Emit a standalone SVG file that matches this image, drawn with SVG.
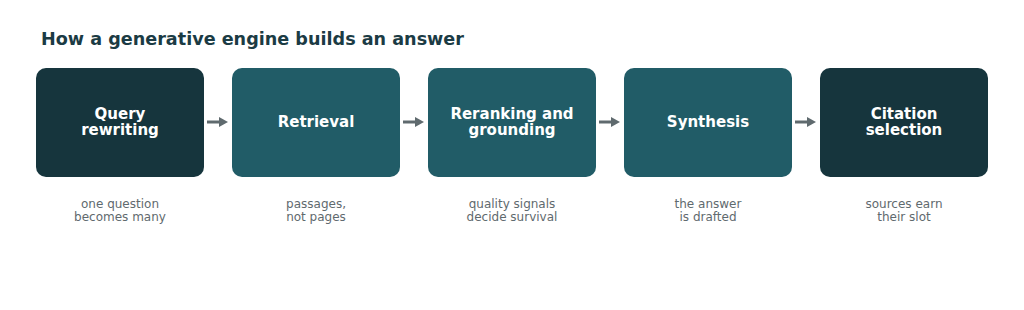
<svg xmlns="http://www.w3.org/2000/svg" width="1024" height="310" viewBox="0 0 1024 310">
<style>
.title{font-family:"DejaVu Sans",sans-serif;font-weight:bold;font-size:17.6px;fill:#1b3b44}
.dark{fill:#16353d}
.teal{fill:#215c67}
.lbl{font-family:"DejaVu Sans",sans-serif;font-weight:bold;font-size:15px;fill:#ffffff;text-anchor:middle}
.cap{font-family:"DejaVu Sans",sans-serif;font-size:12px;fill:#5f6a6e;text-anchor:middle}
.conn{stroke:#5f6a6e;stroke-width:3;fill:none}
</style>
<defs>
<marker id="ah" markerWidth="9" markerHeight="10" refX="0" refY="5" orient="auto" markerUnits="userSpaceOnUse">
<path d="M0,0 L9,5 L0,10 Z" fill="#5f6a6e"/>
</marker>
</defs>
<rect width="1024" height="310" fill="#ffffff"/>
<text class="title" x="41" y="45">How a generative engine builds an answer</text>
<g id="connectors">
<path class="conn" d="M207,122 H219" marker-end="url(#ah)"/>
<path class="conn" d="M403,122 H415" marker-end="url(#ah)"/>
<path class="conn" d="M599,122 H611" marker-end="url(#ah)"/>
<path class="conn" d="M795,122 H807" marker-end="url(#ah)"/>
</g>
<g id="n1">
<rect class="dark" x="36" y="68" width="168" height="109" rx="10"/>
<text class="lbl" x="120" y="119">Query</text>
<text class="lbl" x="120" y="135">rewriting</text>
<text class="cap" x="120" y="208">one question</text>
<text class="cap" x="120" y="221">becomes many</text>
</g>
<g id="n2">
<rect class="teal" x="232" y="68" width="168" height="109" rx="10"/>
<text class="lbl" x="316" y="127">Retrieval</text>
<text class="cap" x="316" y="208">passages,</text>
<text class="cap" x="316" y="221">not pages</text>
</g>
<g id="n3">
<rect class="teal" x="428" y="68" width="168" height="109" rx="10"/>
<text class="lbl" x="512" y="119">Reranking and</text>
<text class="lbl" x="512" y="135">grounding</text>
<text class="cap" x="512" y="208">quality signals</text>
<text class="cap" x="512" y="221">decide survival</text>
</g>
<g id="n4">
<rect class="teal" x="624" y="68" width="168" height="109" rx="10"/>
<text class="lbl" x="708" y="127">Synthesis</text>
<text class="cap" x="708" y="208">the answer</text>
<text class="cap" x="708" y="221">is drafted</text>
</g>
<g id="n5">
<rect class="dark" x="820" y="68" width="168" height="109" rx="10"/>
<text class="lbl" x="904" y="119">Citation</text>
<text class="lbl" x="904" y="135">selection</text>
<text class="cap" x="904" y="208">sources earn</text>
<text class="cap" x="904" y="221">their slot</text>
</g>
</svg>
